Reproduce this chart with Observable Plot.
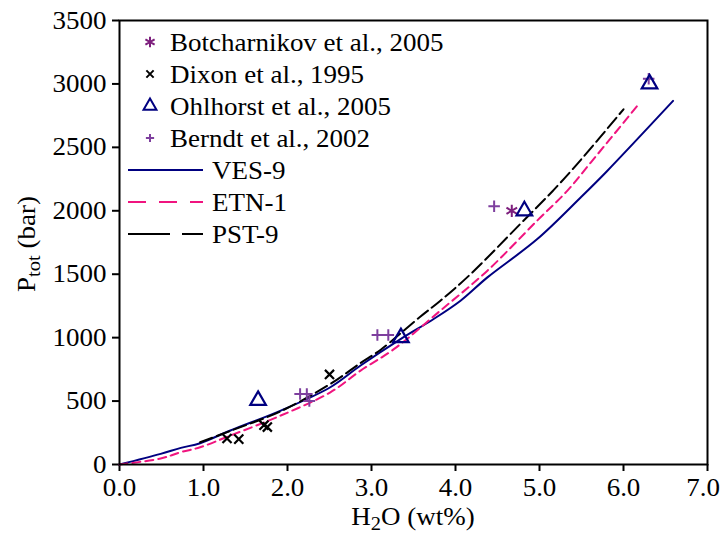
<!DOCTYPE html>
<html><head><meta charset="utf-8">
<script src="https://cdn.jsdelivr.net/npm/d3@7"></script>
<script src="https://cdn.jsdelivr.net/npm/@observablehq/plot@0.6"></script>
<style>
body{margin:0;background:#fff;}
#wrap{width:722px;height:536px;}
</style></head><body><div id="wrap"></div>
<script>
// ---- data ----
const xTicks = [0,1,2,3,4,5,6,7];
const yTicks = [0,500,1000,1500,2000,2500,3000,3500];

const botcharnikovH2O = [4.67];
const botcharnikovP   = [2000];
const dixonH2O = [1.28, 1.42, 1.72, 1.76, 2.50];
const dixonP   = [205, 200, 310, 295, 710];
const ohlhorstH2O = [1.65, 3.35, 4.82, 6.31];
const ohlhorstP   = [505, 1000, 2000, 3000];
const berndtH2O = [2.15, 2.23, 2.26, 3.07, 3.20, 4.46, 6.30];
const berndtP   = [555, 555, 500, 1020, 1020, 2035, 3040];

const vesH2O = [0,0.49,0.73,0.96,1.32,1.92,2.51,2.87,3.35,3.74,4.06,4.38,4.97,5.49,5.80,6.59];
const vesP   = [0,84,131,168,268,425,609,780,990,1147,1291,1475,1775,2105,2310,2866];
const etnH2O = [0,0.49,0.73,0.96,1.32,1.92,2.51,2.87,3.27,3.82,4.38,4.97,5.33,5.61,6.19];
const etnP   = [0,47,97,136,228,386,569,740,911,1213,1528,1921,2157,2380,2848];
const pstH2O = [0.96,1.32,1.92,2.51,2.87,3.11,3.58,3.82,4.18,4.77,5.17,5.49,6.00];
const pstP   = [175,265,420,635,800,905,1165,1291,1501,1895,2165,2400,2800];

const seriesNames = ["Botcharnikov et al., 2005","Dixon et al., 1995","Ohlhorst et al., 2005","Berndt et al., 2002","VES-9","ETN-1","PST-9"];

const C = {bot:"#7d1f7d", dix:"#000000", ohl:"#000080", ber:"#7e3f9e", ves:"#000080", etn:"#f0147f", pst:"#000000"};

const tbl = (xs, ys) => xs.map((h,i) => ({h, p: ys[i]}));

const FONT = "'Liberation Serif','Times New Roman',serif";
const SX = 1.08; // horizontal stretch of the reference text

const plot = Plot.plot({
  width: 722, height: 536,
  marginLeft: 119, marginRight: 15, marginTop: 20, marginBottom: 72,
  style: {fontFamily: FONT, fontSize: "25px", color: "#000", background: "#fff", overflow: "visible"},
  x: {domain: [0,7], label: null},
  y: {domain: [0,3500], label: null},
  marks: [
    Plot.axisX({ticks: xTicks, tickFormat: d3.format(".1f"), tickSize: 7, tickPadding: 7, strokeWidth: 2, label: null}),
    Plot.axisY({ticks: yTicks, tickFormat: d3.format("d"), tickSize: 7, tickPadding: 6, strokeWidth: 2, label: null}),
    Plot.line(tbl(vesH2O, vesP), {x:"h", y:"p", stroke: C.ves, strokeWidth: 2, curve: "catmull-rom"}),
    Plot.line(tbl(etnH2O, etnP), {x:"h", y:"p", stroke: C.etn, strokeWidth: 2, strokeDasharray: "8,5", curve: "catmull-rom"}),
    Plot.line(tbl(pstH2O, pstP), {x:"h", y:"p", stroke: C.pst, strokeWidth: 2, strokeDasharray: "13,5", curve: "catmull-rom"}),
    Plot.dot(tbl(dixonH2O, dixonP), {x:"h", y:"p", symbol:"times", r: 4.2, stroke: C.dix, strokeWidth: 2.2}),
    Plot.dot(tbl(berndtH2O, berndtP), {x:"h", y:"p", symbol:"plus", r: 3.8, stroke: C.ber, strokeWidth: 2}),
    Plot.dot(tbl(botcharnikovH2O, botcharnikovP), {x:"h", y:"p", symbol:"asterisk", r: 5.8, stroke: C.bot, strokeWidth: 2}),
    Plot.dot(tbl(ohlhorstH2O, ohlhorstP), {x:"h", y:"p", symbol:"triangle", r: 5.8, stroke: C.ohl, fill: "none", strokeWidth: 2.2}),
    Plot.frame({stroke: "#000", strokeWidth: 2})
  ]
});
document.getElementById("wrap").appendChild(plot);

const svg = d3.select(plot);
// stretch tick labels horizontally like the reference
svg.selectAll('g[aria-label="x-axis tick label"] text, g[aria-label="y-axis tick label"] text')
  .each(function(){ const t = d3.select(this); t.attr("transform", (t.attr("transform")||"") + ` scale(${SX},1)`); })
  .attr("fill", "#000");
// keep the last x tick label inside the picture
const xl = svg.selectAll('g[aria-label="x-axis tick label"] text').nodes();
if (xl.length) d3.select(xl[xl.length-1]).attr("dx", -4);

// axis titles with subscripts
const xt = svg.append("text").attr("transform", `translate(413,525) scale(${SX},1)`)
  .attr("text-anchor","middle").attr("font-family",FONT).attr("font-size",25).attr("fill","#000");
xt.append("tspan").text("H");
xt.append("tspan").attr("dy",5).attr("font-size",19).text("2");
xt.append("tspan").attr("dy",-5).text("O (wt%)");

const yt = svg.append("text").attr("transform", `translate(35,244) rotate(-90) scale(${SX},1)`)
  .attr("text-anchor","middle").attr("font-family",FONT).attr("font-size",25).attr("fill","#000");
yt.append("tspan").text("P");
yt.append("tspan").attr("dy",5).attr("font-size",19).text("tot");
yt.append("tspan").attr("dy",-5).text(" (bar)");

// legend
const legendSpec = [
  {name: seriesNames[0], sym: d3.symbolAsterisk, size: 80, color: C.bot},
  {name: seriesNames[1], sym: d3.symbolTimes, size: 36, color: C.dix},
  {name: seriesNames[2], sym: d3.symbolTriangle, size: 72, color: C.ohl},
  {name: seriesNames[3], sym: d3.symbolPlus, size: 24, color: C.ber},
  {name: seriesNames[4], line: true, color: C.ves, dash: null},
  {name: seriesNames[5], line: true, color: C.etn, dash: "18,13"},
  {name: seriesNames[6], line: true, color: C.pst, dash: "42,12"}
];
const lg = svg.append("g").attr("text-anchor","start");
legendSpec.forEach((d,i) => {
  const y = 42 + i*32;
  if (d.line) {
    lg.append("line").attr("x1",128).attr("x2",203).attr("y1",y).attr("y2",y)
      .attr("stroke",d.color).attr("stroke-width",2.2).attr("stroke-dasharray",d.dash);
    lg.append("text").attr("transform",`translate(212,${y}) scale(${SX},1)`).attr("dy","0.35em")
      .attr("text-anchor","start").attr("font-family",FONT).attr("font-size",25).attr("fill","#000").text(d.name);
  } else {
    lg.append("path").attr("d", d3.symbol(d.sym, d.size)()).attr("transform",`translate(150,${y})`)
      .attr("fill","none").attr("stroke",d.color).attr("stroke-width",2);
    lg.append("text").attr("transform",`translate(170,${y}) scale(${SX},1)`).attr("dy","0.35em")
      .attr("text-anchor","start").attr("font-family",FONT).attr("font-size",25).attr("fill","#000").text(d.name);
  }
});
</script></body></html>
